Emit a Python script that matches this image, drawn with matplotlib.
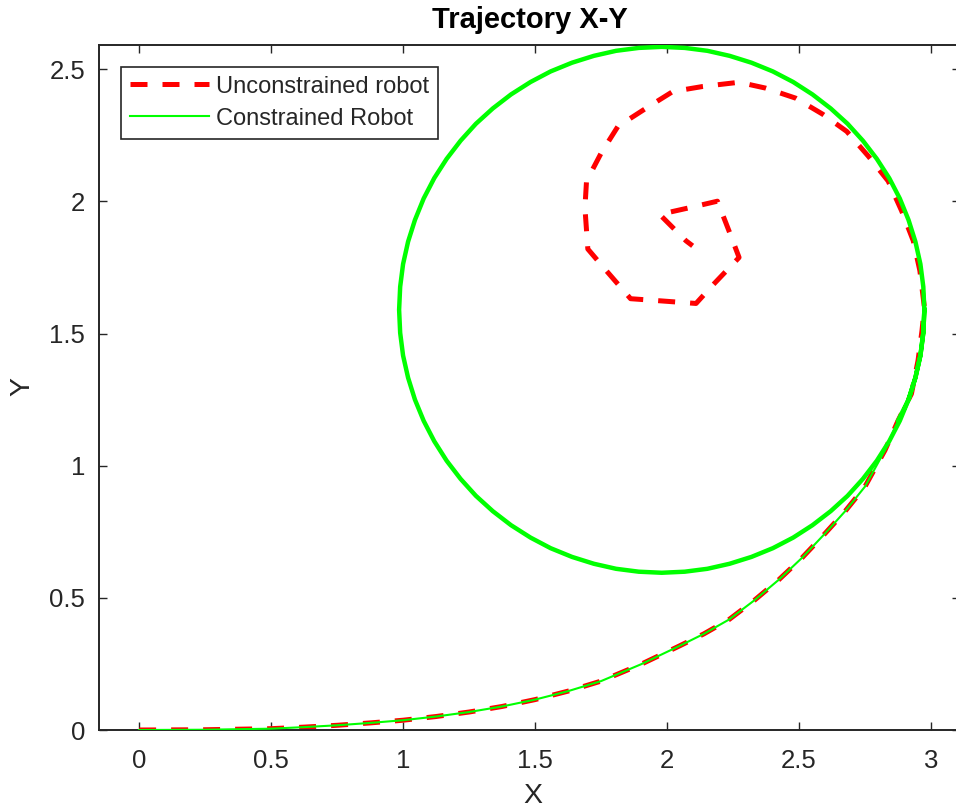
import matplotlib
matplotlib.use('Agg')
import matplotlib.pyplot as plt

# approach curve shared by both robots
approach_x = [0.0, 0.25, 0.5, 0.627, 0.753, 0.878, 1.0, 1.125, 1.25, 1.375, 1.5, 1.625, 1.75,
              1.9, 2.047, 2.14, 2.235, 2.33, 2.424, 2.512, 2.6, 2.675, 2.75, 2.826, 2.876]
approach_y = [0.0, 0.001, 0.005, 0.011, 0.018, 0.027, 0.037, 0.051, 0.068, 0.089, 0.115, 0.147, 0.185,
              0.248, 0.318, 0.364, 0.418, 0.490, 0.569, 0.652, 0.745, 0.828, 0.921, 1.059, 1.172]

# unconstrained robot: spirals inward after the approach
spiral_x = [2.926, 2.951, 2.966, 2.975, 2.958, 2.933, 2.889, 2.838, 2.763, 2.681, 2.590, 2.487,
            2.373, 2.273, 2.135, 2.022, 1.921, 1.814, 1.751, 1.695, 1.689, 1.700, 1.770, 1.862,
            1.960, 2.110, 2.171, 2.273, 2.235, 2.191, 2.084, 1.972, 2.072, 2.097]
spiral_y = [1.272, 1.398, 1.511, 1.600, 1.738, 1.851, 1.964, 2.077, 2.171, 2.265, 2.330, 2.391,
            2.429, 2.451, 2.435, 2.416, 2.353, 2.284, 2.184, 2.077, 1.976, 1.820, 1.738, 1.632,
            1.625, 1.614, 1.681, 1.788, 1.888, 2.001, 1.976, 1.951, 1.851, 1.832]

# constrained robot: loops on the circle after the approach
loop_x = [2.876, 2.915, 2.941, 2.960, 2.971, 2.975, 2.971, 2.960, 2.941, 2.915, 2.882, 2.842,
          2.795, 2.742, 2.684, 2.620, 2.551, 2.478, 2.401, 2.320, 2.237, 2.153, 2.067, 1.980,
          1.893, 1.807, 1.723, 1.640, 1.559, 1.483, 1.409, 1.340, 1.276, 1.218, 1.165, 1.118,
          1.078, 1.045, 1.019, 1.000, 0.989, 0.985, 0.989, 1.000, 1.019, 1.045, 1.078, 1.118,
          1.165, 1.218, 1.276, 1.340, 1.409, 1.483, 1.559, 1.640, 1.723, 1.807, 1.893, 1.980,
          2.067, 2.153, 2.237, 2.320, 2.401, 2.478, 2.551, 2.620, 2.684, 2.742, 2.795, 2.842,
          2.882, 2.915, 2.941, 2.960, 2.971, 2.975]
loop_y = [1.172, 1.250, 1.333, 1.417, 1.503, 1.590, 1.677, 1.763, 1.848, 1.930, 2.011, 2.088,
          2.161, 2.230, 2.294, 2.352, 2.405, 2.452, 2.492, 2.525, 2.551, 2.570, 2.581, 2.585,
          2.581, 2.570, 2.551, 2.525, 2.492, 2.452, 2.405, 2.352, 2.294, 2.230, 2.161, 2.088,
          2.011, 1.930, 1.848, 1.763, 1.677, 1.590, 1.503, 1.417, 1.333, 1.250, 1.170, 1.093,
          1.019, 0.950, 0.886, 0.828, 0.775, 0.728, 0.688, 0.655, 0.629, 0.610, 0.599, 0.595,
          0.599, 0.610, 0.629, 0.655, 0.688, 0.728, 0.775, 0.828, 0.886, 0.950, 1.019, 1.093,
          1.170, 1.250, 1.333, 1.417, 1.503, 1.590]

free_x = approach_x + spiral_x
free_y = approach_y + spiral_y

grey = (0.15, 0.15, 0.15)
plt.rcParams['font.family'] = ['Liberation Sans', 'DejaVu Sans']

fig = plt.figure(figsize=(9.56, 8.07), dpi=100)
ax = fig.add_axes([99/956, 77/807, 861/956, 685/807])

ax.plot(free_x, free_y, color='red', lw=3.6, dashes=(3.4, 3.0), label='Unconstrained robot',
        dash_joinstyle='round', zorder=2)
ax.plot(approach_x, approach_y, color=(0, 1, 0), lw=1.5, label='Constrained Robot',
        solid_joinstyle='round', zorder=3)
ax.plot(loop_x, loop_y, color=(0, 1, 0), lw=3.2, solid_joinstyle='round', zorder=3)

ax.set_xlim(-0.152, 3.11)
ax.set_ylim(0, 2.592)
ax.set_xticks([0, 0.5, 1, 1.5, 2, 2.5, 3])
ax.set_yticks([0, 0.5, 1, 1.5, 2, 2.5])
ax.set_xticklabels(['0', '0.5', '1', '1.5', '2', '2.5', '3'])
ax.set_yticklabels(['0', '0.5', '1', '1.5', '2', '2.5'])

ax.tick_params(direction='in', length=6, width=1.0, color=grey, labelcolor=grey,
               labelsize=18.5, top=True, right=True)
ax.tick_params(axis='x', pad=14)
ax.tick_params(axis='y', pad=10)
for sp in ax.spines.values():
    sp.set_color(grey)
    sp.set_linewidth(1.4)

ax.set_title('Trajectory X-Y', fontsize=21, fontweight='bold', pad=12)
ax.set_xlabel('X', fontsize=20.5, color=grey, va='center')
ax.set_ylabel('Y', fontsize=20.5, color=grey, va='center')
ax.xaxis.set_label_coords(0.504, -0.096)
ax.yaxis.set_label_coords(-0.089, 0.502)

leg = ax.legend(loc='upper left', bbox_to_anchor=(0.0252, 0.9683), borderaxespad=0,
                fontsize=17, handlelength=3.35, handletextpad=0.3, labelspacing=0.42,
                borderpad=0.38, fancybox=False, framealpha=1, edgecolor=grey, labelcolor=grey)
leg.get_frame().set_linewidth(1.2)

plt.savefig('out.png', dpi=100)
